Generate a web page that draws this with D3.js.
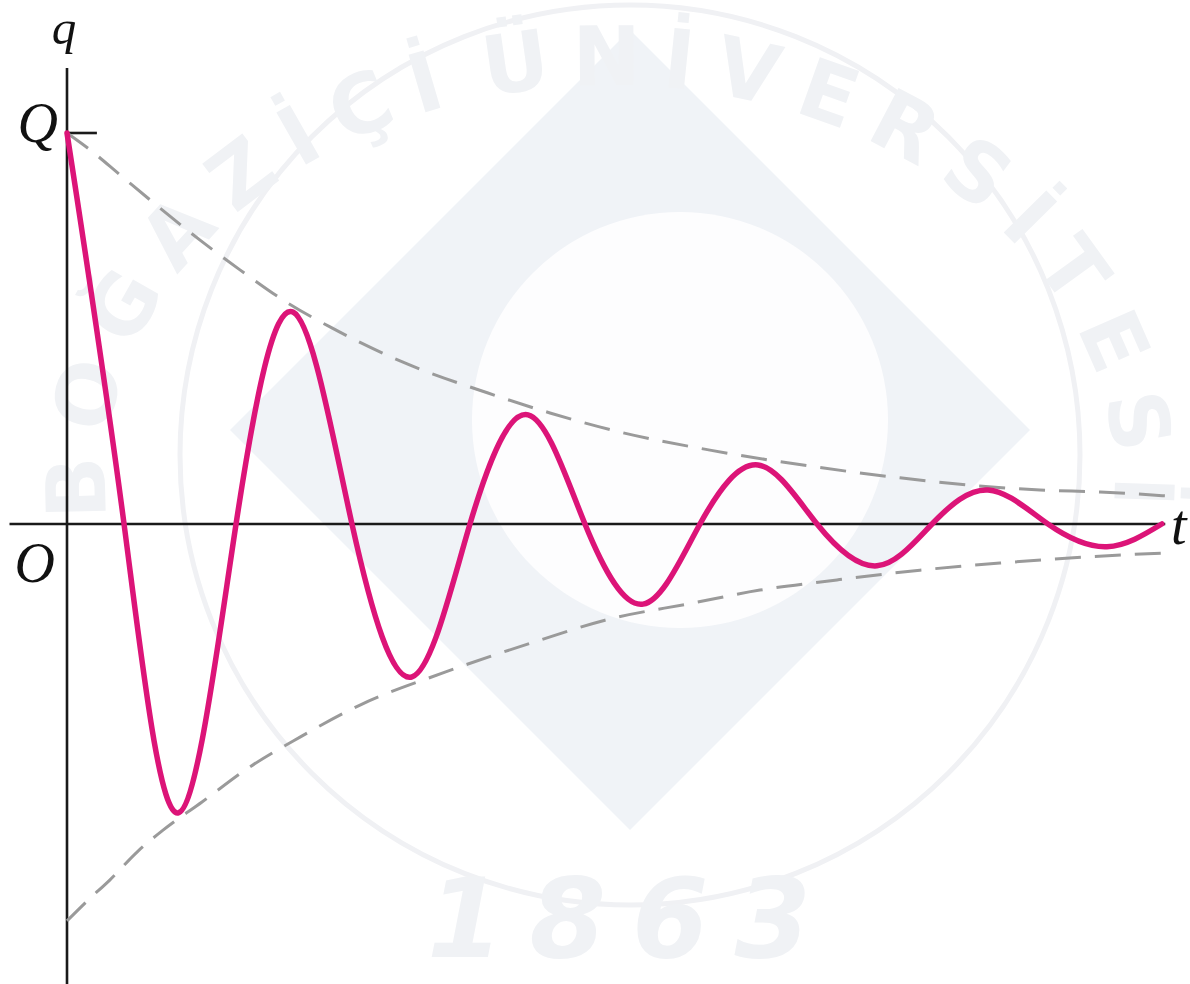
<!DOCTYPE html>
<html>
<head>
<meta charset="utf-8">
<script src="https://cdn.jsdelivr.net/npm/d3@7"></script>
<style>
  html, body { margin: 0; padding: 0; background: #fff; overflow: hidden; }
  svg { display: block; }
</style>
</head>
<body>
<svg id="chart" width="1190" height="984"></svg>
<script>
// Damped oscillation of the charge q on a capacitor in an L-R-C circuit.
// Time in half-periods, charge in units of the initial charge Q.

// charge curve: maxima, minima and zero crossings
const curveT = [0, 0.496, 0.965, 1.470, 1.965, 2.478, 3.000, 3.504, 4.009, 4.504,
                5.009, 5.504, 6.009, 6.522, 7.043, 7.522, 8.009, 8.530, 9.043, 9.520];
const curveQ = [1.000, 0, -0.739, 0, 0.542, 0, -0.391, 0, 0.279, 0,
                -0.205, 0, 0.151, 0, -0.107, 0, 0.087, 0, -0.058, 0];

// upper decay envelope
const upperT = [0, 0.200, 0.461, 0.809, 1.157, 1.504, 1.878, 2.287, 2.896, 3.661,
                4.200, 4.809, 5.591, 6.461, 7.243, 7.826, 8.461, 8.983, 9.548];
const upperQ = [1.000, 0.957, 0.893, 0.808, 0.726, 0.650, 0.573, 0.504, 0.417, 0.335,
                0.284, 0.235, 0.189, 0.148, 0.118, 0.100, 0.087, 0.082, 0.072];

// lower decay envelope
const lowerT = [0, 0.183, 0.374, 0.609, 0.835, 1.174, 1.591, 2.026, 2.548, 3.287,
                4.113, 4.678, 5.443, 6.026, 6.696, 7.417, 8.113, 8.878, 9.548];
const lowerQ = [-1.015, -0.962, -0.910, -0.839, -0.783, -0.711, -0.621, -0.545, -0.463, -0.379,
                -0.297, -0.246, -0.202, -0.169, -0.143, -0.118, -0.100, -0.084, -0.074];

// axis extents and labels
const tAxisRange = [-0.5, 9.55];
const qAxisRange = [-1.2, 1.166];
const qTickValues = [1];
const qTickLabels = ["Q"];
const originLabel = "O";
const tLabel = "t";
const qLabel = "q";

// background seal
const sealText = "BOĞAZİÇİ ÜNİVERSİTESİ";
const sealYear = "1863";

const svg = d3.select("#chart");

const x = d3.scaleLinear().domain([0, 10]).range([67, 1217]);
const y = d3.scaleLinear().domain([-1, 1]).range([915, 133]);

// ---- faint seal behind the plot ----
const seal = svg.append("g").attr("class", "seal");
const defs = svg.append("defs");
const cx = 630, cy = 430;
seal.append("path")
  .attr("d", `M${cx},${cy - 400} L${cx + 400},${cy} L${cx},${cy + 400} L${cx - 400},${cy} Z`)
  .attr("fill", "#f0f3f7");
seal.append("circle").attr("cx", 680).attr("cy", 420).attr("r", 208).attr("fill", "#fdfdfe");
seal.append("circle").attr("cx", 630).attr("cy", 455).attr("r", 450)
  .attr("fill", "none").attr("stroke", "#f0f1f4").attr("stroke-width", 5);

// lettering set one glyph at a time, clockwise along an ellipse
const ecx = 610, ecy = 480, erx = 505, ery = 395;
const angStart = -97, angEnd = 125;
const pt = a => {
  const r = a * Math.PI / 180;
  return [ecx + erx * Math.sin(r), ecy - ery * Math.cos(r)];
};
const p0 = pt(angStart), pm = pt(0), p1 = pt(angEnd);
const arc = defs.append("path")
  .attr("d", `M${p0[0]},${p0[1]} A${erx},${ery} 0 0 1 ${pm[0]},${pm[1]} A${erx},${ery} 0 0 1 ${p1[0]},${p1[1]}`)
  .node();
const sealFont = sel => sel
  .attr("font-family", "DejaVu Sans, sans-serif").attr("font-weight", "bold")
  .attr("font-size", 82).attr("fill", "#f0f2f5");
const spacing = 20;
let s = 0;
Array.from(sealText).forEach(ch => {
  const t = seal.append("text").call(sealFont).attr("text-anchor", "middle").text(ch);
  const w = t.node().getComputedTextLength() + spacing;
  const mid = s + w / 2;
  const a = arc.getPointAtLength(Math.max(mid - 1, 0));
  const b = arc.getPointAtLength(mid + 1);
  const p = arc.getPointAtLength(mid);
  const ang = Math.atan2(b.y - a.y, b.x - a.x) * 180 / Math.PI;
  t.attr("transform", `translate(${p.x},${p.y}) rotate(${ang})`);
  if (ch === " ") t.remove();
  s += w;
});
seal.append("text")
  .attr("x", 632).attr("y", 957).attr("text-anchor", "middle")
  .attr("font-family", "DejaVu Sans, sans-serif").attr("font-weight", "bold")
  .attr("font-style", "italic").attr("letter-spacing", 26)
  .attr("font-size", 110).attr("fill", "#f0f2f5")
  .text(sealYear);

// ---- axes ----
const axisColor = "#1a1a1a";
svg.append("line")
  .attr("x1", x(tAxisRange[0])).attr("x2", x(tAxisRange[1]))
  .attr("y1", y(0)).attr("y2", y(0))
  .attr("stroke", axisColor).attr("stroke-width", 2.6);
svg.append("line")
  .attr("x1", x(0)).attr("x2", x(0))
  .attr("y1", y(qAxisRange[0])).attr("y2", y(qAxisRange[1]))
  .attr("stroke", axisColor).attr("stroke-width", 2.6);

// Q tick on the charge axis
qTickValues.forEach((v, i) => {
  svg.append("line")
    .attr("x1", x(0)).attr("x2", x(0.26))
    .attr("y1", y(v)).attr("y2", y(v))
    .attr("stroke", axisColor).attr("stroke-width", 2.6);
  svg.append("text")
    .attr("x", x(0) - 9).attr("y", y(v) + 9)
    .attr("text-anchor", "end")
    .attr("font-family", "Liberation Serif, serif").attr("font-style", "italic")
    .attr("font-size", 56).attr("fill", "#111")
    .text(qTickLabels[i]);
});

const labelFont = (sel, size) => sel
  .attr("font-family", "Liberation Serif, serif").attr("font-style", "italic")
  .attr("font-size", size).attr("fill", "#111");

svg.append("text").attr("x", x(0) - 12).attr("y", y(0) + 58)
  .attr("text-anchor", "end").call(labelFont, 56).text(originLabel);
svg.append("text").attr("x", x(0) - 3).attr("y", 44)
  .attr("text-anchor", "middle").call(labelFont, 49).text(qLabel);
svg.append("text").attr("x", 1171).attr("y", y(0) + 20)
  .attr("text-anchor", "start").call(labelFont, 56).text(tLabel);

// ---- envelopes ----
const envLine = d3.line().x(d => x(d[0])).y(d => y(d[1])).curve(d3.curveMonotoneX);
[[upperT, upperQ], [lowerT, lowerQ]].forEach(([ts, qs]) => {
  svg.append("path")
    .datum(ts.map((t, i) => [t, qs[i]]))
    .attr("d", envLine)
    .attr("fill", "none")
    .attr("stroke", "#9a9a9a")
    .attr("stroke-width", 3)
    .attr("stroke-dasharray", "26 14");
});

// ---- charge curve ----
const qLine = d3.line().x(d => x(d[0])).y(d => y(d[1])).curve(d3.curveNatural);
svg.append("path")
  .datum(curveT.map((t, i) => [t, curveQ[i]]))
  .attr("d", qLine)
  .attr("fill", "none")
  .attr("stroke", "#dc1478")
  .attr("stroke-width", 5.5)
  .attr("stroke-linejoin", "round")
  .attr("stroke-linecap", "round");
</script>
</body>
</html>
